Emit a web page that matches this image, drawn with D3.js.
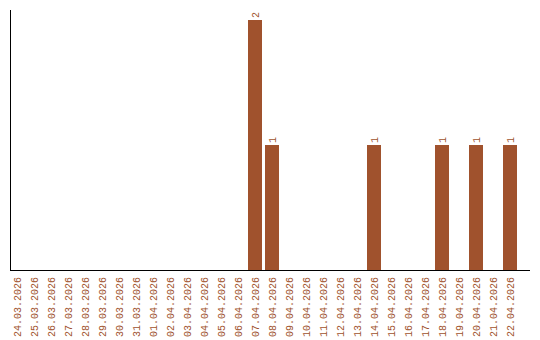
<!DOCTYPE html>
<html>
<head>
<meta charset="utf-8">
<script src="https://cdn.jsdelivr.net/npm/d3@7"></script>
<style>
  body { margin: 0; background: #fff; }
  text { font-family: "Liberation Mono", monospace; font-size: 10px; fill: #a0522d; }
</style>
</head>
<body>
<div id="chart"></div>
<script>
const dates = ["24.03.2026","25.03.2026","26.03.2026","27.03.2026","28.03.2026","29.03.2026",
  "30.03.2026","31.03.2026","01.04.2026","02.04.2026","03.04.2026","04.04.2026","05.04.2026",
  "06.04.2026","07.04.2026","08.04.2026","09.04.2026","10.04.2026","11.04.2026","12.04.2026",
  "13.04.2026","14.04.2026","15.04.2026","16.04.2026","17.04.2026","18.04.2026","19.04.2026",
  "20.04.2026","21.04.2026","22.04.2026"]
const counts = [0,0,0,0,0,0,0,0,0,0,0,0,0,0,2,1,0,0,0,0,0,1,0,0,0,1,0,1,0,1]

const w = 540, h = 340
const baseY = 270, topY = 20
const colour = "#a0522d"

const svg = d3.select('#chart').append('svg')
    .attr('width', w)
    .attr('height', h)

const x = d3.scaleBand()
    .domain(dates)
    .range([8.5, 518.5])
    .paddingInner(3 / 17)
    .paddingOuter(1.5 / 17)

const y = d3.scaleLinear()
    .domain([0, d3.max(counts)])
    .range([baseY, topY])

const rows = dates.map((d, i) => ({date: d, count: counts[i]}))

// bars
svg.selectAll('rect.bar')
    .data(rows.filter(d => d.count > 0))
    .join('rect')
    .attr('class', 'bar')
    .attr('x', d => x(d.date))
    .attr('y', d => y(d.count))
    .attr('width', x.bandwidth())
    .attr('height', d => baseY - y(d.count))
    .attr('fill', colour)

// value labels
svg.selectAll('text.value')
    .data(rows.filter(d => d.count > 0))
    .join('text')
    .attr('class', 'value')
    .attr('transform', d => 'translate(' + (x(d.date) + x.bandwidth() / 2 + 3.5) + ',' + (y(d.count) - 2) + ') rotate(-90)')
    .text(d => d.count)

// axes lines
svg.append('line')
    .attr('x1', 10.5).attr('x2', 10.5)
    .attr('y1', 10).attr('y2', baseY)
    .attr('stroke', '#000')
svg.append('line')
    .attr('x1', 10).attr('x2', 530)
    .attr('y1', baseY + 0.5).attr('y2', baseY + 0.5)
    .attr('stroke', '#000')

// date labels
svg.selectAll('text.date')
    .data(dates)
    .join('text')
    .attr('class', 'date')
    .attr('text-anchor', 'end')
    .attr('transform', d => 'translate(' + (x(d) + x.bandwidth() / 2 + 3.5) + ',' + (baseY + 7) + ') rotate(-90)')
    .text(d => d)
</script>
</body>
</html>
